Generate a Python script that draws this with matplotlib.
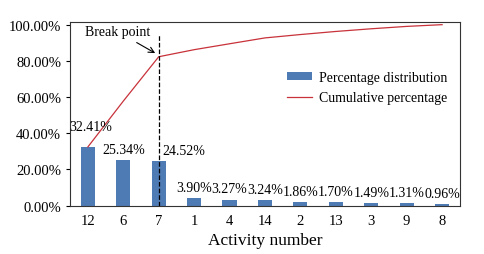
import numpy as np
import matplotlib
matplotlib.use("Agg")
import matplotlib.pyplot as plt

plt.rcParams['font.family'] = ['Liberation Serif', 'DejaVu Serif']

activities = ['12', '6', '7', '1', '4', '14', '2', '13', '3', '9', '8']
percent = [32.41, 25.34, 24.52, 3.90, 3.27, 3.24, 1.86, 1.70, 1.49, 1.31, 0.96]
cumulative = np.cumsum(percent)
break_idx = 2

fig = plt.figure(figsize=(4.84, 2.55), dpi=100)
ax = fig.add_axes([0.145, 0.19, 0.805, 0.72])

x = np.arange(len(activities))
bars = ax.bar(x, percent, width=0.4, color='#4f7bb5', label='Percentage distribution')
line, = ax.plot(x, cumulative, color='#c8323a', lw=0.9, label='Cumulative percentage')

# value labels above the bars
for i, v in enumerate(percent):
    dx, dy = 0, 3
    if i == 0:
        dx, dy = 2, 10
    elif i == break_idx:
        dx = 18
    ax.annotate('%.2f%%' % v, (i, v), xytext=(dx, dy), textcoords='offset points',
                ha='center', va='bottom', fontsize=10)

ax.axvline(break_idx, ymin=0, ymax=0.93, color='black', ls='--', lw=0.9)
ax.annotate('Break point', xy=(break_idx - 0.1, cumulative[break_idx] + 2),
            xytext=(break_idx - 1.15, 96), ha='center', va='center', fontsize=10,
            arrowprops=dict(arrowstyle='->', color='black', lw=0.8, shrinkA=2, shrinkB=0))

ax.set_xlim(-0.5, len(activities) - 0.5)
ax.set_ylim(0, 101.5)
ax.set_yticks([0, 20, 40, 60, 80, 100])
ax.set_yticklabels(['%.2f%%' % t for t in [0, 20, 40, 60, 80, 100]])
ax.set_xticks(x)
ax.set_xticklabels(activities)
ax.tick_params(labelsize=10.5, length=3)
ax.tick_params(axis='x', length=0, pad=6)
ax.set_xlabel('Activity number', fontsize=12.5)

for s in ax.spines.values():
    s.set_linewidth(0.8)
    s.set_color('#333333')

ax.legend([bars, line], ['Percentage distribution', 'Cumulative percentage'],
          loc='upper right', bbox_to_anchor=(1.0, 0.8), frameon=False, fontsize=10,
          handlelength=1.8, handleheight=0.5, handletextpad=0.5, labelspacing=0.5)

fig.savefig('out.png', dpi=100)
